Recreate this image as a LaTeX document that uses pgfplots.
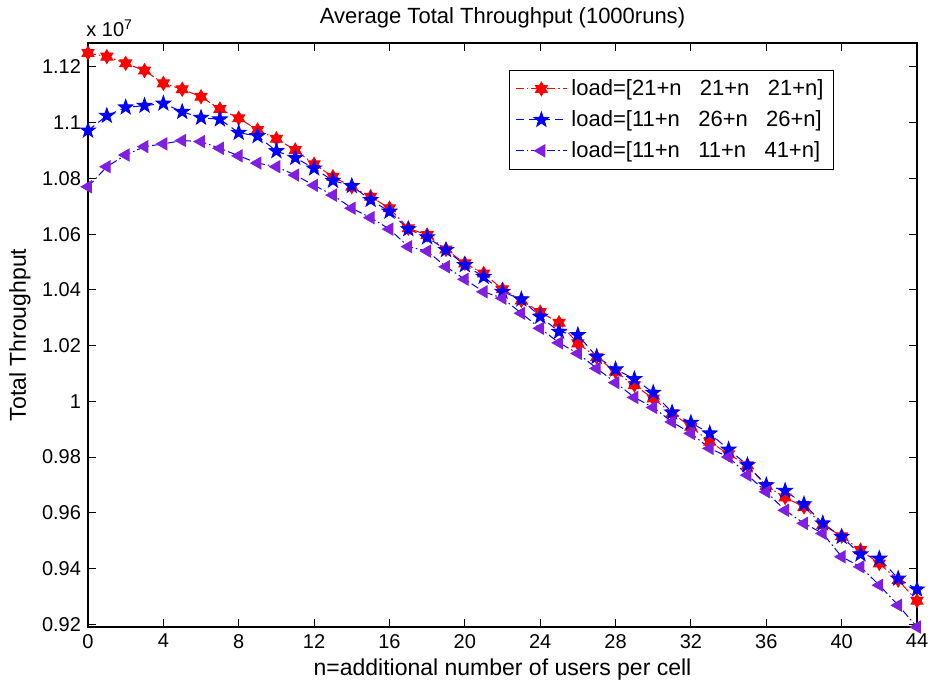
\documentclass[border=0pt]{standalone}
\usepackage{fontspec}
\setmainfont{Liberation Sans}
\usepackage{pgfplots}
\pgfplotsset{compat=1.18}

\definecolor{mred}{rgb}{1,0,0}
\definecolor{mblue}{rgb}{0,0,1}
\definecolor{mviolet}{rgb}{0.50,0.12,0.88}

% filled five- and six-pointed stars like the MATLAB markers
\pgfdeclareplotmark{pentagram}{%
  \pgfpathmoveto{\pgfpointpolar{90}{\pgfplotmarksize}}%
  \pgfpathlineto{\pgfpointpolar{126}{0.40\pgfplotmarksize}}%
  \pgfpathlineto{\pgfpointpolar{162}{\pgfplotmarksize}}%
  \pgfpathlineto{\pgfpointpolar{198}{0.40\pgfplotmarksize}}%
  \pgfpathlineto{\pgfpointpolar{234}{\pgfplotmarksize}}%
  \pgfpathlineto{\pgfpointpolar{270}{0.40\pgfplotmarksize}}%
  \pgfpathlineto{\pgfpointpolar{306}{\pgfplotmarksize}}%
  \pgfpathlineto{\pgfpointpolar{342}{0.40\pgfplotmarksize}}%
  \pgfpathlineto{\pgfpointpolar{18}{\pgfplotmarksize}}%
  \pgfpathlineto{\pgfpointpolar{54}{0.40\pgfplotmarksize}}%
  \pgfpathclose\pgfusepathqfillstroke}
\pgfdeclareplotmark{hexagram}{%
  \pgfpathmoveto{\pgfpointpolar{90}{\pgfplotmarksize}}%
  \pgfpathlineto{\pgfpointpolar{120}{0.58\pgfplotmarksize}}%
  \pgfpathlineto{\pgfpointpolar{150}{\pgfplotmarksize}}%
  \pgfpathlineto{\pgfpointpolar{180}{0.58\pgfplotmarksize}}%
  \pgfpathlineto{\pgfpointpolar{210}{\pgfplotmarksize}}%
  \pgfpathlineto{\pgfpointpolar{240}{0.58\pgfplotmarksize}}%
  \pgfpathlineto{\pgfpointpolar{270}{\pgfplotmarksize}}%
  \pgfpathlineto{\pgfpointpolar{300}{0.58\pgfplotmarksize}}%
  \pgfpathlineto{\pgfpointpolar{330}{\pgfplotmarksize}}%
  \pgfpathlineto{\pgfpointpolar{0}{0.58\pgfplotmarksize}}%
  \pgfpathlineto{\pgfpointpolar{30}{\pgfplotmarksize}}%
  \pgfpathlineto{\pgfpointpolar{60}{0.58\pgfplotmarksize}}%
  \pgfpathclose\pgfusepathqfillstroke}

\pgfplotstableread{
n red blue violet
0 1.1250 1.0972 1.0770
1 1.1237 1.1025 1.0842
2 1.1213 1.1055 1.0884
3 1.1187 1.1061 1.0914
4 1.1141 1.1069 1.0924
5 1.1120 1.1039 1.0936
6 1.1093 1.1018 1.0932
7 1.1049 1.1012 1.0908
8 1.1016 1.0964 1.0881
9 1.0974 1.0952 1.0855
10 1.0942 1.0898 1.0842
11 1.0902 1.0874 1.0812
12 1.0851 1.0836 1.0775
13 1.0806 1.0792 1.0740
14 1.0770 1.0773 1.0693
15 1.0734 1.0723 1.0659
16 1.0693 1.0681 1.0618
17 1.0621 1.0618 1.0555
18 1.0597 1.0589 1.0539
19 1.0545 1.0543 1.0483
20 1.0495 1.0489 1.0438
21 1.0459 1.0447 1.0393
22 1.0402 1.0393 1.0370
23 1.0362 1.0366 1.0316
24 1.0320 1.0304 1.0262
25 1.0282 1.0250 1.0210
26 1.0208 1.0238 1.0172
27 1.0158 1.0160 1.0118
28 1.0106 1.0115 1.0067
29 1.0058 1.0080 1.0014
30 1.0010 1.0031 0.9978
31 0.9957 0.9960 0.9926
32 0.9909 0.9923 0.9885
33 0.9855 0.9885 0.9831
34 0.9810 0.9827 0.9800
35 0.9770 0.9771 0.9735
36 0.9696 0.9699 0.9675
37 0.9655 0.9679 0.9609
38 0.9621 0.9631 0.9562
39 0.9556 0.9562 0.9526
40 0.9516 0.9514 0.9442
41 0.9466 0.9451 0.9406
42 0.9418 0.9436 0.9340
43 0.9358 0.9364 0.9268
44 0.9284 0.9325 0.9190
}\datatable

\begin{document}
\begin{tikzpicture}
\begin{axis}[
    scale only axis,
    width=414.5pt, height=292pt,
    xmin=0, xmax=44, ymin=0.919, ymax=1.1286,
    xtick={0,4,...,44},
    ytick={0.92,0.94,0.96,0.98,1,1.02,1.04,1.06,1.08,1.1,1.12},
    yticklabels={0.92,0.94,0.96,0.98,1,1.02,1.04,1.06,1.08,1.1,1.12},
    tick align=inside,
    major tick length=4pt,
    tick style={black, line width=0.5pt},
    axis line style={line width=0.6pt},
    /pgf/number format/assume math mode=true,
    ticklabel style={font=\fontsize{10}{12}\selectfont},
    xlabel={n=additional number of users per cell},
    xlabel style={at={(axis description cs:0.5,-0.073)}, anchor=center,
        font=\fontsize{11.5}{13}\selectfont},
    ylabel={Total Throughput},
    ylabel style={at={(axis description cs:-0.082,0.5)}, anchor=center,
        font=\fontsize{11.5}{13}\selectfont},
    clip=false,
    legend style={at={(0.9,0.954)}, anchor=north east, draw=black,
        line width=0.6pt, font=\fontsize{11}{13}\selectfont,
        inner xsep=3pt, inner ysep=2.5pt, row sep=2pt},
    legend cell align=left,
    legend image code/.code={%
        \draw[mark repeat=2,mark phase=2]
        plot coordinates {(0cm,0cm) (0.45cm,0cm) (0.9cm,0cm)};},
]
\addplot[mred, line width=0.5pt, dash pattern=on 4pt off 1.5pt on 0.8pt off 1.5pt,
    mark=hexagram, mark size=3.4pt, mark options={solid, fill=mred, draw=mred}]
    table[x=n, y=red] {\datatable};
\addlegendentry{load=[21+n\ \ \ 21+n\ \ \ 21+n]\hspace{3pt}}
\addplot[mblue, line width=0.5pt, dash pattern=on 4pt off 2.5pt,
    mark=pentagram, mark size=3.8pt, mark options={solid, fill=mblue, draw=mblue}]
    table[x=n, y=blue] {\datatable};
\addlegendentry{load=[11+n\ \ \ 26+n\ \ \ 26+n]\hspace{3pt}}
\addplot[mblue, line width=0.5pt, dash pattern=on 4pt off 1.5pt on 0.8pt off 1.5pt,
    mark=triangle*, mark size=3.4pt,
    mark options={solid, rotate=90, fill=mviolet, draw=mviolet}]
    table[x=n, y=violet] {\datatable};
\addlegendentry{load=[11+n\ \ \ 11+n\ \ \ 41+n]\hspace{3pt}}
\node[anchor=south west, inner sep=0pt, font=\fontsize{10}{12}\selectfont]
    at ([xshift=-1pt, yshift=3pt]rel axis cs:0,1) {x 10\textsuperscript{7}};
\node[anchor=center, font=\fontsize{11}{13}\selectfont]
    at ([yshift=12.5pt]rel axis cs:0.5,1) {Average Total Throughput (1000runs)};
\end{axis}
\pgfresetboundingbox
\useasboundingbox ([shift={(-44pt,-28.5pt)}]current axis.south west)
    rectangle ([shift={(7.5pt,21.5pt)}]current axis.north east);
\end{tikzpicture}
\end{document}
